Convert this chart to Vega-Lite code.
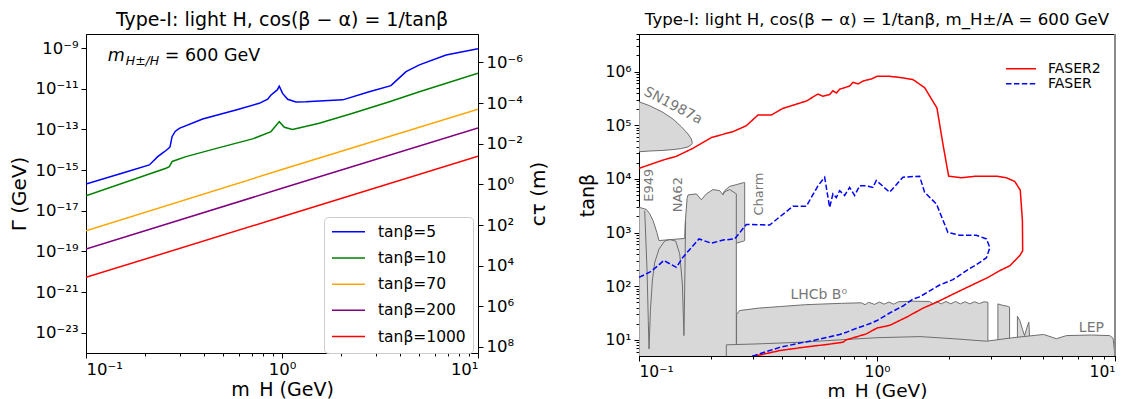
{
  "$schema": "https://vega.github.io/schema/vega-lite/v6.json",
  "background": "white",
  "padding": {"left": 8, "top": 10, "right": 0, "bottom": 0},
  "bounds": "flush",
  "spacing": 161,
  "resolve": {"scale": {"color": "independent", "strokeDash": "independent"}, "legend": {"color": "independent", "strokeDash": "independent"}},
  "config": {
    "font": "DejaVu Sans",
    "view": {"stroke": "black", "strokeWidth": 1},
    "axis": {"grid": false, "domainColor": "black", "tickColor": "black", "labelColor": "black", "titleColor": "black", "labelFont": "DejaVu Sans", "titleFont": "DejaVu Sans", "titleFontWeight": "normal", "tickSize": 5, "labelPadding": 3},
    "title": {"font": "DejaVu Sans", "fontWeight": "normal", "color": "black", "anchor": "middle"},
    "legend": {"labelFont": "DejaVu Sans", "labelColor": "black"}
  },
  "datasets": {
    "gamma": [
      {"tb": "tanβ=5", "m": 0.1, "G": 2.04e-16},
      {"tb": "tanβ=5", "m": 0.1585, "G": 7.76e-16},
      {"tb": "tanβ=5", "m": 0.2104, "G": 1.78e-15},
      {"tb": "tanβ=5", "m": 0.2323, "G": 4.57e-15},
      {"tb": "tanβ=5", "m": 0.2512, "G": 7.94e-15},
      {"tb": "tanβ=5", "m": 0.2642, "G": 1.17e-14},
      {"tb": "tanβ=5", "m": 0.2685, "G": 1.41e-14},
      {"tb": "tanβ=5", "m": 0.2748, "G": 4.37e-14},
      {"tb": "tanβ=5", "m": 0.2851, "G": 7.94e-14},
      {"tb": "tanβ=5", "m": 0.2992, "G": 1.12e-13},
      {"tb": "tanβ=5", "m": 0.3936, "G": 3.24e-13},
      {"tb": "tanβ=5", "m": 0.5821, "G": 8.91e-13},
      {"tb": "tanβ=5", "m": 0.7656, "G": 1.91e-12},
      {"tb": "tanβ=5", "m": 0.8453, "G": 3.02e-12},
      {"tb": "tanβ=5", "m": 0.879, "G": 4.9e-12},
      {"tb": "tanβ=5", "m": 0.9462, "G": 8.71e-12},
      {"tb": "tanβ=5", "m": 0.9683, "G": 1.32e-11},
      {"tb": "tanβ=5", "m": 1.007, "G": 5.89e-12},
      {"tb": "tanβ=5", "m": 1.069, "G": 3.02e-12},
      {"tb": "tanβ=5", "m": 1.178, "G": 2.24e-12},
      {"tb": "tanβ=5", "m": 1.324, "G": 2.29e-12},
      {"tb": "tanβ=5", "m": 1.549, "G": 2.51e-12},
      {"tb": "tanβ=5", "m": 2.042, "G": 2.82e-12},
      {"tb": "tanβ=5", "m": 2.786, "G": 7.08e-12},
      {"tb": "tanβ=5", "m": 3.597, "G": 1.41e-11},
      {"tb": "tanβ=5", "m": 3.89, "G": 2.88e-11},
      {"tb": "tanβ=5", "m": 4.295, "G": 6.92e-11},
      {"tb": "tanβ=5", "m": 5.023, "G": 1.48e-10},
      {"tb": "tanβ=5", "m": 6.871, "G": 4.57e-10},
      {"tb": "tanβ=5", "m": 10, "G": 9.12e-10},
      {"tb": "tanβ=10", "m": 0.1, "G": 5.37e-17},
      {"tb": "tanβ=10", "m": 0.2559, "G": 1.23e-15},
      {"tb": "tanβ=10", "m": 0.2661, "G": 1.48e-15},
      {"tb": "tanβ=10", "m": 0.2754, "G": 2.63e-15},
      {"tb": "tanβ=10", "m": 0.3236, "G": 4.57e-15},
      {"tb": "tanβ=10", "m": 0.4786, "G": 1.26e-14},
      {"tb": "tanβ=10", "m": 0.7079, "G": 3.39e-14},
      {"tb": "tanβ=10", "m": 0.879, "G": 7.76e-14},
      {"tb": "tanβ=10", "m": 0.9683, "G": 2.4e-13},
      {"tb": "tanβ=10", "m": 1.028, "G": 1.26e-13},
      {"tb": "tanβ=10", "m": 1.132, "G": 1.0e-13},
      {"tb": "tanβ=10", "m": 1.549, "G": 2.0e-13},
      {"tb": "tanβ=10", "m": 2.296, "G": 6.17e-13},
      {"tb": "tanβ=10", "m": 3.532, "G": 2.29e-12},
      {"tb": "tanβ=10", "m": 5.023, "G": 7.08e-12},
      {"tb": "tanβ=10", "m": 10, "G": 5.75e-11},
      {"tb": "tanβ=70", "m": 0.1, "G": 1.02e-18},
      {"tb": "tanβ=70", "m": 1, "G": 1.05e-15},
      {"tb": "tanβ=70", "m": 10, "G": 9.8e-13},
      {"tb": "tanβ=200", "m": 0.1, "G": 1.29e-19},
      {"tb": "tanβ=200", "m": 1, "G": 1.26e-16},
      {"tb": "tanβ=200", "m": 10, "G": 1.17e-13},
      {"tb": "tanβ=1000", "m": 0.1, "G": 5.25e-21},
      {"tb": "tanβ=1000", "m": 1, "G": 5.0e-18},
      {"tb": "tanβ=1000", "m": 10, "G": 4.8e-15}
    ],
    "ann": [{"m": 0.1291, "G": 4.07e-10, "s1": "m", "s2": "H±/H", "s3": "= 600 GeV"}],
    "ctau": [{"ct": 1}],
    "regions": [
      {"reg": "a_charm", "m": 0.2239, "lo": 631, "hi": 5012},
      {"reg": "a_charm", "m": 0.2291, "lo": 631, "hi": 6026},
      {"reg": "a_charm", "m": 0.2404, "lo": 631, "hi": 7244},
      {"reg": "a_charm", "m": 0.2559, "lo": 631, "hi": 7762},
      {"reg": "a_charm", "m": 0.2754, "lo": 692, "hi": 8511},
      {"reg": "a_charm", "m": 0.278, "lo": 708, "hi": 8511},
      {"reg": "b_block", "m": 0.1, "lo": 3, "hi": 2951},
      {"reg": "b_block", "m": 0.1057, "lo": 3, "hi": 2754},
      {"reg": "b_block", "m": 0.1074, "lo": 3, "hi": 2692},
      {"reg": "b_block", "m": 0.1109, "lo": 3, "hi": 2239},
      {"reg": "b_block", "m": 0.1146, "lo": 3, "hi": 1660},
      {"reg": "b_block", "m": 0.1189, "lo": 3, "hi": 1000},
      {"reg": "b_block", "m": 0.1213, "lo": 3, "hi": 708},
      {"reg": "b_block", "m": 0.1556, "lo": 3, "hi": 776},
      {"reg": "b_block", "m": 0.1563, "lo": 3, "hi": 1445},
      {"reg": "b_block", "m": 0.1592, "lo": 3, "hi": 4266},
      {"reg": "b_block", "m": 0.1607, "lo": 3, "hi": 5012},
      {"reg": "b_block", "m": 0.1742, "lo": 3, "hi": 5248},
      {"reg": "b_block", "m": 0.1828, "lo": 3, "hi": 4074},
      {"reg": "b_block", "m": 0.1919, "lo": 3, "hi": 5248},
      {"reg": "b_block", "m": 0.2046, "lo": 3, "hi": 6310},
      {"reg": "b_block", "m": 0.2183, "lo": 3, "hi": 6026},
      {"reg": "b_block", "m": 0.2254, "lo": 3, "hi": 5012},
      {"reg": "b_block", "m": 0.2291, "lo": 3, "hi": 5754},
      {"reg": "b_block", "m": 0.2404, "lo": 3, "hi": 6310},
      {"reg": "b_block", "m": 0.2564, "lo": 3, "hi": 5248},
      {"reg": "c_sn", "m": 0.1, "lo": 32000, "hi": 273000},
      {"reg": "c_sn", "m": 0.1109, "lo": 33000, "hi": 230000},
      {"reg": "c_sn", "m": 0.1262, "lo": 33900, "hi": 173000},
      {"reg": "c_sn", "m": 0.139, "lo": 35100, "hi": 130000},
      {"reg": "c_sn", "m": 0.1507, "lo": 36700, "hi": 93500},
      {"reg": "c_sn", "m": 0.1607, "lo": 39400, "hi": 68400},
      {"reg": "c_sn", "m": 0.166, "lo": 43300, "hi": 55200},
      {"reg": "c_sn", "m": 0.1675, "lo": 46000, "hi": 46200},
      {"reg": "d_lhcb", "m": 0.257, "lo": 3, "hi": 29.5},
      {"reg": "d_lhcb", "m": 0.2642, "lo": 3, "hi": 35.1},
      {"reg": "d_lhcb", "m": 0.3162, "lo": 3, "hi": 38.9},
      {"reg": "d_lhcb", "m": 0.3899, "lo": 3, "hi": 41.7},
      {"reg": "d_lhcb", "m": 0.5012, "lo": 3, "hi": 45.2},
      {"reg": "d_lhcb", "m": 0.7079, "lo": 3, "hi": 47.9},
      {"reg": "d_lhcb", "m": 0.859, "lo": 3, "hi": 49.0},
      {"reg": "d_lhcb", "m": 0.8913, "lo": 3, "hi": 45.2},
      {"reg": "d_lhcb", "m": 0.9226, "lo": 3, "hi": 50.1},
      {"reg": "d_lhcb", "m": 0.9772, "lo": 3, "hi": 45.7},
      {"reg": "d_lhcb", "m": 1.023, "lo": 3, "hi": 50.7},
      {"reg": "d_lhcb", "m": 1.072, "lo": 3, "hi": 46.2},
      {"reg": "d_lhcb", "m": 1.122, "lo": 3, "hi": 50.7},
      {"reg": "d_lhcb", "m": 1.175, "lo": 3, "hi": 46.2},
      {"reg": "d_lhcb", "m": 1.23, "lo": 3, "hi": 51.3},
      {"reg": "d_lhcb", "m": 1.416, "lo": 3, "hi": 52.5},
      {"reg": "d_lhcb", "m": 1.66, "lo": 3, "hi": 51.9},
      {"reg": "d_lhcb", "m": 1.722, "lo": 3, "hi": 46.8},
      {"reg": "d_lhcb", "m": 1.778, "lo": 3, "hi": 51.9},
      {"reg": "d_lhcb", "m": 1.862, "lo": 3, "hi": 46.8},
      {"reg": "d_lhcb", "m": 1.95, "lo": 3, "hi": 51.9},
      {"reg": "d_lhcb", "m": 2.042, "lo": 3, "hi": 46.8},
      {"reg": "d_lhcb", "m": 2.138, "lo": 3, "hi": 51.9},
      {"reg": "d_lhcb", "m": 2.239, "lo": 3, "hi": 46.8},
      {"reg": "d_lhcb", "m": 2.344, "lo": 3, "hi": 51.3},
      {"reg": "d_lhcb", "m": 2.455, "lo": 3, "hi": 46.8},
      {"reg": "d_lhcb", "m": 2.57, "lo": 3, "hi": 51.3},
      {"reg": "d_lhcb", "m": 2.692, "lo": 3, "hi": 47.3},
      {"reg": "d_lhcb", "m": 2.818, "lo": 3, "hi": 51.3},
      {"reg": "d_lhcb", "m": 2.924, "lo": 3, "hi": 50.1},
      {"reg": "e_s1", "m": 3.221, "lo": 7.9, "hi": 46.8},
      {"reg": "e_s1", "m": 3.388, "lo": 7.9, "hi": 43.7},
      {"reg": "e_s1", "m": 3.508, "lo": 7.9, "hi": 42.7},
      {"reg": "e_s1", "m": 3.606, "lo": 7.9, "hi": 40.7},
      {"reg": "f_s2", "m": 3.89, "lo": 7.9, "hi": 27.5},
      {"reg": "f_s2", "m": 3.981, "lo": 7.9, "hi": 22.9},
      {"reg": "f_s2", "m": 4.083, "lo": 7.9, "hi": 15.8},
      {"reg": "f_s2", "m": 4.169, "lo": 7.9, "hi": 12.0},
      {"reg": "f_s2", "m": 4.266, "lo": 7.9, "hi": 17.0},
      {"reg": "f_s2", "m": 4.345, "lo": 7.9, "hi": 21.4},
      {"reg": "f_s2", "m": 4.375, "lo": 7.9, "hi": 11.2},
      {"reg": "g_lep", "m": 0.2328, "lo": 3, "hi": 8.07},
      {"reg": "g_lep", "m": 0.3162, "lo": 3, "hi": 8.41},
      {"reg": "g_lep", "m": 0.3899, "lo": 3, "hi": 8.71},
      {"reg": "g_lep", "m": 0.5012, "lo": 3, "hi": 9.12},
      {"reg": "g_lep", "m": 0.6966, "lo": 3, "hi": 10.0},
      {"reg": "g_lep", "m": 1.0, "lo": 3, "hi": 10.96},
      {"reg": "g_lep", "m": 1.514, "lo": 3, "hi": 11.5},
      {"reg": "g_lep", "m": 2.089, "lo": 3, "hi": 10.5},
      {"reg": "g_lep", "m": 2.884, "lo": 3, "hi": 9.44},
      {"reg": "g_lep", "m": 3.724, "lo": 3, "hi": 10.96},
      {"reg": "g_lep", "m": 5.012, "lo": 3, "hi": 12.6},
      {"reg": "g_lep", "m": 5.675, "lo": 3, "hi": 10.5},
      {"reg": "g_lep", "m": 6.252, "lo": 3, "hi": 12.0},
      {"reg": "g_lep", "m": 7.943, "lo": 3, "hi": 12.3},
      {"reg": "g_lep", "m": 9.506, "lo": 3, "hi": 12.0},
      {"reg": "g_lep", "m": 9.817, "lo": 3, "hi": 10.7},
      {"reg": "g_lep", "m": 10, "lo": 3, "hi": 5.0}
    ],
    "notch": [
      {"i": 0, "m": 0.1057, "t": 2553},
      {"i": 1, "m": 0.1081, "t": 195},
      {"i": 2, "m": 0.1094, "t": 22.9},
      {"i": 3, "m": 0.1102, "t": 6.76},
      {"i": 4, "m": 0.1117, "t": 35.5},
      {"i": 5, "m": 0.1138, "t": 126},
      {"i": 6, "m": 0.1164, "t": 275},
      {"i": 7, "m": 0.1213, "t": 490},
      {"i": 8, "m": 0.1282, "t": 692},
      {"i": 9, "m": 0.1346, "t": 741},
      {"i": 10, "m": 0.1426, "t": 692},
      {"i": 11, "m": 0.1483, "t": 398},
      {"i": 12, "m": 0.1521, "t": 110},
      {"i": 13, "m": 0.1545, "t": 12.0},
      {"i": 14, "m": 0.156, "t": 195},
      {"i": 15, "m": 0.157, "t": 1660}
    ],
    "faser": [
      {"exp": "FASER2", "i": 0, "m": 0.1, "t": 15670},
      {"exp": "FASER2", "i": 1, "m": 0.1262, "t": 22390},
      {"exp": "FASER2", "i": 2, "m": 0.1435, "t": 26300},
      {"exp": "FASER2", "i": 3, "m": 0.1687, "t": 37150},
      {"exp": "FASER2", "i": 4, "m": 0.2014, "t": 58880},
      {"exp": "FASER2", "i": 5, "m": 0.2483, "t": 75860},
      {"exp": "FASER2", "i": 6, "m": 0.2825, "t": 97720},
      {"exp": "FASER2", "i": 7, "m": 0.3162, "t": 154900},
      {"exp": "FASER2", "i": 8, "m": 0.3597, "t": 154900},
      {"exp": "FASER2", "i": 9, "m": 0.4009, "t": 204200},
      {"exp": "FASER2", "i": 10, "m": 0.5047, "t": 281800},
      {"exp": "FASER2", "i": 11, "m": 0.5649, "t": 380200},
      {"exp": "FASER2", "i": 12, "m": 0.5916, "t": 346700},
      {"exp": "FASER2", "i": 13, "m": 0.6324, "t": 371500},
      {"exp": "FASER2", "i": 14, "m": 0.6531, "t": 436500},
      {"exp": "FASER2", "i": 15, "m": 0.6761, "t": 398100},
      {"exp": "FASER2", "i": 16, "m": 0.6966, "t": 467700},
      {"exp": "FASER2", "i": 17, "m": 0.7328, "t": 501200},
      {"exp": "FASER2", "i": 18, "m": 0.7674, "t": 537000},
      {"exp": "FASER2", "i": 19, "m": 0.7925, "t": 631000},
      {"exp": "FASER2", "i": 20, "m": 0.8318, "t": 588800},
      {"exp": "FASER2", "i": 21, "m": 0.871, "t": 660700},
      {"exp": "FASER2", "i": 22, "m": 0.9016, "t": 691800},
      {"exp": "FASER2", "i": 23, "m": 0.9462, "t": 724400},
      {"exp": "FASER2", "i": 24, "m": 1.0, "t": 812800},
      {"exp": "FASER2", "i": 25, "m": 1.13, "t": 812800},
      {"exp": "FASER2", "i": 26, "m": 1.247, "t": 776200},
      {"exp": "FASER2", "i": 27, "m": 1.416, "t": 707900},
      {"exp": "FASER2", "i": 28, "m": 1.585, "t": 501200},
      {"exp": "FASER2", "i": 29, "m": 1.786, "t": 208900},
      {"exp": "FASER2", "i": 30, "m": 1.892, "t": 44670},
      {"exp": "FASER2", "i": 31, "m": 2.0, "t": 11220},
      {"exp": "FASER2", "i": 32, "m": 2.259, "t": 10470},
      {"exp": "FASER2", "i": 33, "m": 2.612, "t": 11220},
      {"exp": "FASER2", "i": 34, "m": 3.177, "t": 11220},
      {"exp": "FASER2", "i": 35, "m": 3.499, "t": 10470},
      {"exp": "FASER2", "i": 36, "m": 3.793, "t": 8913},
      {"exp": "FASER2", "i": 37, "m": 3.999, "t": 6166},
      {"exp": "FASER2", "i": 38, "m": 4.083, "t": 1660},
      {"exp": "FASER2", "i": 39, "m": 4.093, "t": 457},
      {"exp": "FASER2", "i": 40, "m": 3.981, "t": 372},
      {"exp": "FASER2", "i": 41, "m": 3.614, "t": 240},
      {"exp": "FASER2", "i": 42, "m": 3.281, "t": 195},
      {"exp": "FASER2", "i": 43, "m": 2.884, "t": 141},
      {"exp": "FASER2", "i": 44, "m": 2.529, "t": 107},
      {"exp": "FASER2", "i": 45, "m": 2.084, "t": 70.8},
      {"exp": "FASER2", "i": 46, "m": 1.778, "t": 50.1},
      {"exp": "FASER2", "i": 47, "m": 1.56, "t": 38.9},
      {"exp": "FASER2", "i": 48, "m": 1.327, "t": 26.3},
      {"exp": "FASER2", "i": 49, "m": 1.13, "t": 18.6},
      {"exp": "FASER2", "i": 50, "m": 1.0, "t": 16.6},
      {"exp": "FASER2", "i": 51, "m": 0.9016, "t": 12.9},
      {"exp": "FASER2", "i": 52, "m": 0.743, "t": 10.0},
      {"exp": "FASER2", "i": 53, "m": 0.7194, "t": 9.02},
      {"exp": "FASER2", "i": 54, "m": 0.631, "t": 8.32},
      {"exp": "FASER2", "i": 55, "m": 0.4887, "t": 7.24},
      {"exp": "FASER2", "i": 56, "m": 0.3899, "t": 6.31},
      {"exp": "FASER2", "i": 57, "m": 0.3013, "t": 4.9},
      {"exp": "FASER", "i": 0, "m": 0.1, "t": 146},
      {"exp": "FASER", "i": 1, "m": 0.1109, "t": 182},
      {"exp": "FASER", "i": 2, "m": 0.1202, "t": 240},
      {"exp": "FASER", "i": 3, "m": 0.1271, "t": 302},
      {"exp": "FASER", "i": 4, "m": 0.1435, "t": 224},
      {"exp": "FASER", "i": 5, "m": 0.1531, "t": 347},
      {"exp": "FASER", "i": 6, "m": 0.1786, "t": 759},
      {"exp": "FASER", "i": 7, "m": 0.2014, "t": 631},
      {"exp": "FASER", "i": 8, "m": 0.2254, "t": 724},
      {"exp": "FASER", "i": 9, "m": 0.2523, "t": 759},
      {"exp": "FASER", "i": 10, "m": 0.2825, "t": 1413},
      {"exp": "FASER", "i": 11, "m": 0.354, "t": 1380},
      {"exp": "FASER", "i": 12, "m": 0.4436, "t": 3090},
      {"exp": "FASER", "i": 13, "m": 0.5047, "t": 3090},
      {"exp": "FASER", "i": 14, "m": 0.5649, "t": 7413},
      {"exp": "FASER", "i": 15, "m": 0.6026, "t": 10715},
      {"exp": "FASER", "i": 16, "m": 0.6324, "t": 2951},
      {"exp": "FASER", "i": 17, "m": 0.6531, "t": 5248},
      {"exp": "FASER", "i": 18, "m": 0.6745, "t": 4467},
      {"exp": "FASER", "i": 19, "m": 0.6966, "t": 6026},
      {"exp": "FASER", "i": 20, "m": 0.7311, "t": 4898},
      {"exp": "FASER", "i": 21, "m": 0.7674, "t": 6918},
      {"exp": "FASER", "i": 22, "m": 0.8054, "t": 4898},
      {"exp": "FASER", "i": 23, "m": 0.8453, "t": 7413},
      {"exp": "FASER", "i": 24, "m": 0.9016, "t": 7413},
      {"exp": "FASER", "i": 25, "m": 0.9616, "t": 6918},
      {"exp": "FASER", "i": 26, "m": 0.9931, "t": 9333},
      {"exp": "FASER", "i": 27, "m": 1.047, "t": 7586},
      {"exp": "FASER", "i": 28, "m": 1.13, "t": 5623},
      {"exp": "FASER", "i": 29, "m": 1.285, "t": 10715},
      {"exp": "FASER", "i": 30, "m": 1.51, "t": 11220},
      {"exp": "FASER", "i": 31, "m": 1.585, "t": 5623},
      {"exp": "FASER", "i": 32, "m": 1.778, "t": 3388},
      {"exp": "FASER", "i": 33, "m": 1.986, "t": 1000},
      {"exp": "FASER", "i": 34, "m": 2.223, "t": 891},
      {"exp": "FASER", "i": 35, "m": 2.612, "t": 891},
      {"exp": "FASER", "i": 36, "m": 2.884, "t": 759},
      {"exp": "FASER", "i": 37, "m": 2.979, "t": 525},
      {"exp": "FASER", "i": 38, "m": 2.884, "t": 339},
      {"exp": "FASER", "i": 39, "m": 2.612, "t": 251},
      {"exp": "FASER", "i": 40, "m": 2.377, "t": 195},
      {"exp": "FASER", "i": 41, "m": 2.084, "t": 132},
      {"exp": "FASER", "i": 42, "m": 1.832, "t": 105},
      {"exp": "FASER", "i": 43, "m": 1.51, "t": 63.1},
      {"exp": "FASER", "i": 44, "m": 1.416, "t": 57.5},
      {"exp": "FASER", "i": 45, "m": 1.285, "t": 42.7},
      {"exp": "FASER", "i": 46, "m": 1.13, "t": 31.6},
      {"exp": "FASER", "i": 47, "m": 1.0, "t": 22.9},
      {"exp": "FASER", "i": 48, "m": 0.9311, "t": 20.0},
      {"exp": "FASER", "i": 49, "m": 0.7925, "t": 15.5},
      {"exp": "FASER", "i": 50, "m": 0.743, "t": 13.8},
      {"exp": "FASER", "i": 51, "m": 0.6966, "t": 12.6},
      {"exp": "FASER", "i": 52, "m": 0.5559, "t": 10.0},
      {"exp": "FASER", "i": 53, "m": 0.4732, "t": 8.71},
      {"exp": "FASER", "i": 54, "m": 0.3899, "t": 7.24},
      {"exp": "FASER", "i": 55, "m": 0.3062, "t": 5.13},
      {"exp": "FASER", "i": 56, "m": 0.2951, "t": 4.9}
    ],
    "labv": [
      {"lab": "E949", "m": 0.1104, "t": 7590},
      {"lab": "NA62", "m": 0.1456, "t": 5070},
      {"lab": "Charm", "m": 0.3184, "t": 5220}
    ],
    "labsn": [{"lab": "SN1987a", "m": 0.139, "t": 230000}],
    "labh": [
      {"lab": "LHCb B⁰", "m": 0.569, "t": 69.7},
      {"lab": "LEP", "m": 7.96, "t": 16.6}
    ],
    "spine": [{"m": 10}]
  },
  "hconcat": [
    {
      "width": 392,
      "height": 319,
      "title": {"text": "Type-I: light H, cos(β − α) = 1/tanβ", "fontSize": 19, "offset": 4},
      "layer": [
        {
          "data": {"name": "gamma"},
          "mark": {"type": "line", "strokeWidth": 1.5, "clip": true},
          "encoding": {
            "x": {"field": "m", "type": "quantitative", "scale": {"type": "log", "domain": [0.1, 10], "nice": false},
              "axis": {"orient": "bottom", "values": [0.1, 1, 10], "labelFontSize": 16.5, "labelPadding": 3, "title": "m_H (GeV)", "titleFontSize": 19, "titlePadding": 3,
                "labelExpr": "'10' + replace(replace(replace(replace(replace(replace(replace(replace(replace(replace(replace('' + round(log(datum.value) / LN10), regexp('-', 'g'), '⁻'), regexp('0', 'g'), '⁰'), regexp('1', 'g'), '¹'), regexp('2', 'g'), '²'), regexp('3', 'g'), '³'), regexp('4', 'g'), '⁴'), regexp('5', 'g'), '⁵'), regexp('6', 'g'), '⁶'), regexp('7', 'g'), '⁷'), regexp('8', 'g'), '⁸'), regexp('9', 'g'), '⁹')"}},
            "y": {"field": "G", "type": "quantitative", "scale": {"type": "log", "domain": [1e-24, 4.9e-9], "nice": false},
              "axis": {"orient": "left", "values": [1e-23, 1e-21, 1e-19, 1e-17, 1e-15, 1e-13, 1e-11, 1e-9], "labelFontSize": 16.5, "title": "Γ (GeV)", "titleFontSize": 20, "titlePadding": 6,
                "labelExpr": "'10' + replace(replace(replace(replace(replace(replace(replace(replace(replace(replace(replace('' + round(log(datum.value) / LN10), regexp('-', 'g'), '⁻'), regexp('0', 'g'), '⁰'), regexp('1', 'g'), '¹'), regexp('2', 'g'), '²'), regexp('3', 'g'), '³'), regexp('4', 'g'), '⁴'), regexp('5', 'g'), '⁵'), regexp('6', 'g'), '⁶'), regexp('7', 'g'), '⁷'), regexp('8', 'g'), '⁸'), regexp('9', 'g'), '⁹')"}},
            "color": {"field": "tb", "type": "nominal",
              "scale": {"domain": ["tanβ=5", "tanβ=10", "tanβ=70", "tanβ=200", "tanβ=1000"], "range": ["#0000ff", "#008000", "#ffa500", "#800080", "#ff0000"]},
              "legend": {"orient": "none", "legendX": 238, "legendY": 183, "title": null, "labelFontSize": 15.5, "symbolType": "stroke", "symbolSize": 1089, "symbolStrokeWidth": 1.5, "clipHeight": 15.5, "rowPadding": 9.2, "labelOffset": 12, "padding": 7, "strokeColor": "#cccccc", "fillColor": "white", "cornerRadius": 4}}
          }
        },
        {
          "data": {"name": "ann"},
          "mark": {"type": "text", "fontSize": 17.5, "fontStyle": "italic", "align": "left", "baseline": "middle"},
          "encoding": {
            "x": {"field": "m", "type": "quantitative", "scale": {"type": "log", "domain": [0.1, 10], "nice": false},
              "axis": {"orient": "bottom", "values": [0.2, 0.3, 0.4, 0.5, 0.6, 0.7, 0.8, 0.9, 2, 3, 4, 5, 6, 7, 8, 9], "labels": false, "tickSize": 3, "domain": false, "title": null}},
            "y": {"field": "G", "type": "quantitative", "scale": {"type": "log", "domain": [1e-24, 4.9e-9], "nice": false}, "axis": null},
            "text": {"field": "s1"}
          }
        },
        {
          "data": {"name": "ann"},
          "mark": {"type": "text", "fontSize": 12.5, "fontStyle": "italic", "align": "left", "baseline": "middle", "dx": 18, "dy": 5},
          "encoding": {
            "x": {"field": "m", "type": "quantitative", "scale": {"type": "log", "domain": [0.1, 10], "nice": false}, "axis": null},
            "y": {"field": "G", "type": "quantitative", "scale": {"type": "log", "domain": [1e-24, 4.9e-9], "nice": false}, "axis": null},
            "text": {"field": "s2"}
          }
        },
        {
          "data": {"name": "ann"},
          "mark": {"type": "text", "fontSize": 17.5, "align": "left", "baseline": "middle", "dx": 57},
          "encoding": {
            "x": {"field": "m", "type": "quantitative", "scale": {"type": "log", "domain": [0.1, 10], "nice": false}, "axis": null},
            "y": {"field": "G", "type": "quantitative", "scale": {"type": "log", "domain": [1e-24, 4.9e-9], "nice": false}, "axis": null},
            "text": {"field": "s3"}
          }
        },
        {
          "data": {"name": "ctau"},
          "mark": {"type": "point", "opacity": 0},
          "encoding": {
            "y": {"field": "ct", "type": "quantitative", "scale": {"type": "log", "domain": [4.03e-8, 1.973e8], "nice": false, "reverse": true},
              "axis": {"orient": "right", "values": [1e-6, 1e-4, 1e-2, 1, 1e2, 1e4, 1e6, 1e8], "labelFontSize": 16.5, "title": "cτ (m)", "titleFontSize": 20, "titleAngle": 270, "titleBaseline": "top", "titlePadding": 6,
                "labelExpr": "'10' + replace(replace(replace(replace(replace(replace(replace(replace(replace(replace(replace('' + round(log(datum.value) / LN10), regexp('-', 'g'), '⁻'), regexp('0', 'g'), '⁰'), regexp('1', 'g'), '¹'), regexp('2', 'g'), '²'), regexp('3', 'g'), '³'), regexp('4', 'g'), '⁴'), regexp('5', 'g'), '⁵'), regexp('6', 'g'), '⁶'), regexp('7', 'g'), '⁷'), regexp('8', 'g'), '⁸'), regexp('9', 'g'), '⁹')"}}
          }
        }
      ],
      "resolve": {"scale": {"y": "independent"}, "axis": {"x": "independent", "y": "independent"}}
    },
    {
      "width": 476,
      "height": 322,
      "title": {"text": "Type-I: light H, cos(β − α) = 1/tanβ, m_H±/A = 600 GeV", "fontSize": 16.6, "offset": 4},
      "layer": [
        {
          "data": {"name": "regions"},
          "mark": {"type": "area", "fill": "#d8d8d8", "stroke": "#6e6e6e", "strokeWidth": 1, "clip": true},
          "encoding": {
            "x": {"field": "m", "type": "quantitative", "scale": {"type": "log", "domain": [0.1, 10], "nice": false}, "axis": null},
            "y": {"field": "hi", "type": "quantitative", "scale": {"type": "log", "domain": [5, 5000000], "nice": false}, "axis": null},
            "y2": {"field": "lo"},
            "detail": {"field": "reg"}
          }
        },
        {
          "data": {"name": "notch"},
          "mark": {"type": "line", "color": "#6e6e6e", "strokeWidth": 1, "clip": true},
          "encoding": {
            "x": {"field": "m", "type": "quantitative", "scale": {"type": "log", "domain": [0.1, 10], "nice": false}, "axis": null},
            "y": {"field": "t", "type": "quantitative", "scale": {"type": "log", "domain": [5, 5000000], "nice": false}, "axis": null},
            "order": {"field": "i"}
          }
        },
        {
          "data": {"name": "faser"},
          "mark": {"type": "line", "strokeWidth": 1.5, "clip": true},
          "encoding": {
            "x": {"field": "m", "type": "quantitative", "scale": {"type": "log", "domain": [0.1, 10], "nice": false},
              "axis": {"orient": "bottom", "values": [0.1, 1, 10], "labelFontSize": 15.5, "labelPadding": 3, "title": "m_H (GeV)", "titleFontSize": 18.5, "titlePadding": 2,
                "labelExpr": "'10' + replace(replace(replace(replace(replace(replace(replace(replace(replace(replace(replace('' + round(log(datum.value) / LN10), regexp('-', 'g'), '⁻'), regexp('0', 'g'), '⁰'), regexp('1', 'g'), '¹'), regexp('2', 'g'), '²'), regexp('3', 'g'), '³'), regexp('4', 'g'), '⁴'), regexp('5', 'g'), '⁵'), regexp('6', 'g'), '⁶'), regexp('7', 'g'), '⁷'), regexp('8', 'g'), '⁸'), regexp('9', 'g'), '⁹')"}},
            "y": {"field": "t", "type": "quantitative", "scale": {"type": "log", "domain": [5, 5000000], "nice": false},
              "axis": {"orient": "left", "values": [10, 100, 1000, 10000, 100000, 1000000], "labelFontSize": 15.5, "title": "tanβ", "titleFontSize": 19, "titlePadding": 8,
                "labelExpr": "'10' + replace(replace(replace(replace(replace(replace(replace(replace(replace(replace(replace('' + round(log(datum.value) / LN10), regexp('-', 'g'), '⁻'), regexp('0', 'g'), '⁰'), regexp('1', 'g'), '¹'), regexp('2', 'g'), '²'), regexp('3', 'g'), '³'), regexp('4', 'g'), '⁴'), regexp('5', 'g'), '⁵'), regexp('6', 'g'), '⁶'), regexp('7', 'g'), '⁷'), regexp('8', 'g'), '⁸'), regexp('9', 'g'), '⁹')"}},
            "color": {"field": "exp", "type": "nominal", "scale": {"domain": ["FASER2", "FASER"], "range": ["#ff0000", "#0000ff"]},
              "legend": {"orient": "none", "legendX": 366, "legendY": 28, "title": null, "labelFontSize": 14, "symbolType": "stroke", "symbolSize": 900, "symbolStrokeWidth": 1.5, "clipHeight": 13.4, "rowPadding": 0, "labelOffset": 11, "padding": 0}},
            "strokeDash": {"field": "exp", "type": "nominal", "scale": {"domain": ["FASER2", "FASER"], "range": [[1, 0], [5.5, 2.4]]},
              "legend": {"orient": "none", "legendX": 366, "legendY": 28, "title": null, "labelFontSize": 14, "symbolType": "stroke", "symbolSize": 900, "symbolStrokeWidth": 1.5, "clipHeight": 13.4, "rowPadding": 0, "labelOffset": 11, "padding": 0}},
            "order": {"field": "i"}
          }
        },
        {
          "data": {"name": "faser"},
          "mark": {"type": "point", "opacity": 0},
          "encoding": {
            "x": {"field": "m", "type": "quantitative", "scale": {"type": "log", "domain": [0.1, 10], "nice": false},
              "axis": {"orient": "bottom", "values": [0.2, 0.3, 0.4, 0.5, 0.6, 0.7, 0.8, 0.9, 2, 3, 4, 5, 6, 7, 8, 9], "labels": false, "tickSize": 3, "domain": false, "title": null}},
            "y": {"field": "t", "type": "quantitative", "scale": {"type": "log", "domain": [5, 5000000], "nice": false},
              "axis": {"orient": "left", "values": [6, 7, 8, 9, 20, 30, 40, 50, 60, 70, 80, 90, 200, 300, 400, 500, 600, 700, 800, 900, 2000, 3000, 4000, 5000, 6000, 7000, 8000, 9000, 20000, 30000, 40000, 50000, 60000, 70000, 80000, 90000, 200000, 300000, 400000, 500000, 600000, 700000, 800000, 900000, 2000000, 3000000, 4000000, 5000000], "labels": false, "tickSize": 3, "domain": false, "title": null}}
          }
        },
        {
          "data": {"name": "labv"},
          "mark": {"type": "text", "angle": 270, "fontSize": 13, "color": "#777777", "align": "center", "baseline": "middle"},
          "encoding": {
            "x": {"field": "m", "type": "quantitative", "scale": {"type": "log", "domain": [0.1, 10], "nice": false}, "axis": null},
            "y": {"field": "t", "type": "quantitative", "scale": {"type": "log", "domain": [5, 5000000], "nice": false}, "axis": null},
            "text": {"field": "lab"}
          }
        },
        {
          "data": {"name": "labsn"},
          "mark": {"type": "text", "angle": 28, "fontSize": 14, "color": "#777777", "align": "center", "baseline": "middle"},
          "encoding": {
            "x": {"field": "m", "type": "quantitative", "scale": {"type": "log", "domain": [0.1, 10], "nice": false}, "axis": null},
            "y": {"field": "t", "type": "quantitative", "scale": {"type": "log", "domain": [5, 5000000], "nice": false}, "axis": null},
            "text": {"field": "lab"}
          }
        },
        {
          "data": {"name": "labh"},
          "mark": {"type": "text", "fontSize": 14, "color": "#777777", "align": "center", "baseline": "middle"},
          "encoding": {
            "x": {"field": "m", "type": "quantitative", "scale": {"type": "log", "domain": [0.1, 10], "nice": false}, "axis": null},
            "y": {"field": "t", "type": "quantitative", "scale": {"type": "log", "domain": [5, 5000000], "nice": false}, "axis": null},
            "text": {"field": "lab"}
          }
        },
        {
          "data": {"name": "spine"},
          "mark": {"type": "rule", "color": "#8a8a8a", "strokeWidth": 2},
          "encoding": {
            "x": {"field": "m", "type": "quantitative", "scale": {"type": "log", "domain": [0.1, 10], "nice": false}, "axis": null}
          }
        }
      ],
      "resolve": {"axis": {"x": "independent", "y": "independent"}}
    }
  ]
}
